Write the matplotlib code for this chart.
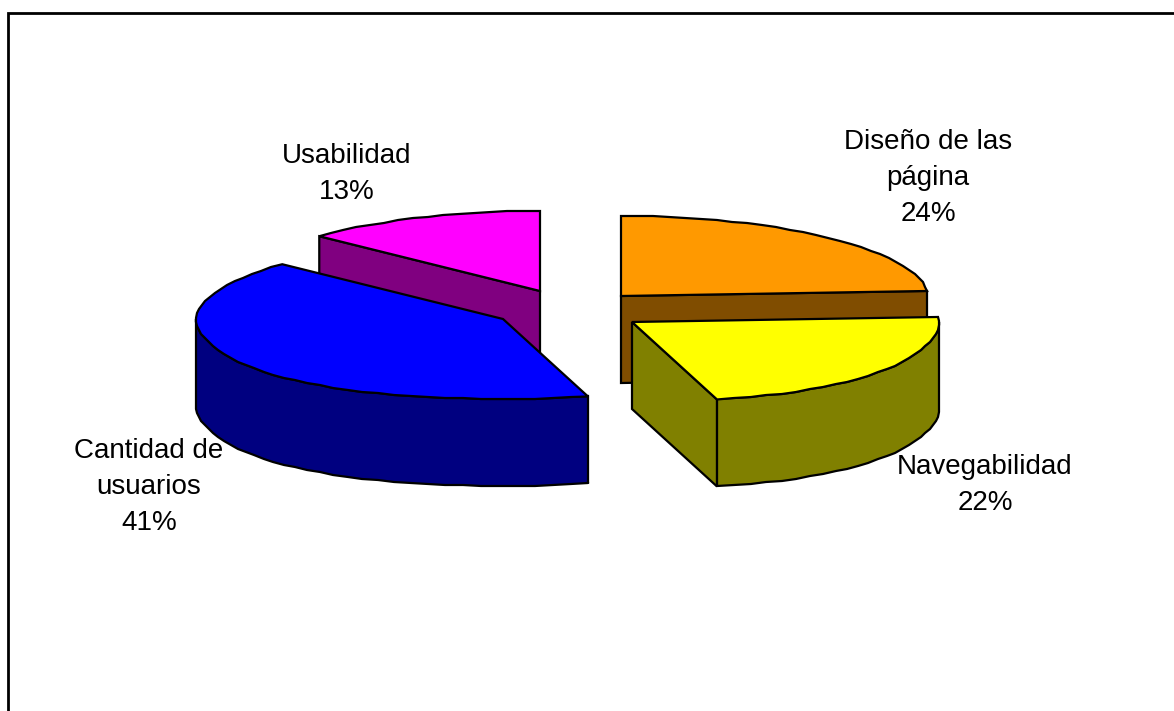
import numpy as np
import matplotlib
matplotlib.use("Agg")
import matplotlib.pyplot as plt
from matplotlib.patches import Polygon

# Data
categories = ["Diseño de las\npágina", "Navegabilidad", "Cantidad de\nusuarios", "Usabilidad"]
percentages = [24, 22, 41, 13]
top_colors = ["#FF9900", "#FFFF00", "#0000FF", "#FF00FF"]
side_colors = ["#804D00", "#808000", "#000080", "#800080"]

# Layout (pixel coordinates of the reference)
W, H = 1174, 711
RX, RY, DEPTH = 307, 80, 87
apexes = [(621, 296), (632, 322), (503, 319), (540, 291)]
label_pos = [(928, 178), (985, 485), (149, 487), (347, 174)]
draw_order = [3, 2, 0, 1]

plt.rcParams["font.family"] = ["Liberation Sans", "DejaVu Sans"]
fig = plt.figure(figsize=(W / 100, H / 100), dpi=100, facecolor="white")
ax = fig.add_axes([0, 0, 1, 1])
ax.set_xlim(0, W)
ax.set_ylim(H, 0)
ax.axis("off")


def ellipse_xy(apex, t):
    """t: clockwise angle from 12 o'clock (radians)."""
    c = np.cos(t)
    widen = 1 + 0.125 * np.maximum(0, -c) ** 3 - 0.02 * np.maximum(0, c)
    return apex[0] + RX * np.sin(t) * widen, apex[1] - RY * c


def stepped(v):
    """Whole-pixel vertices give the slightly rough outline of the original arcs."""
    out = np.round(v)
    out[0], out[-1] = v[0], v[-1]
    return out


starts = np.cumsum([0] + percentages[:-1]) * 3.6
for i in draw_order:
    d0, d1 = starts[i], starts[i] + percentages[i] * 3.6
    a0, a1 = np.radians(d0), np.radians(d1)
    apex = apexes[i]
    n = max(int((d1 - d0) / 3), 2)
    t = np.linspace(a0, a1, n + 1)
    x, y = ellipse_xy(apex, t)
    x, y = stepped(x), stepped(y)
    kw = dict(edgecolor="black", linewidth=1.6, joinstyle="miter")

    # Flat cut faces, drawn when they look toward the viewer
    for tt, visible in ((a0, 180 < d0 < 360), (a1, 0 < d1 < 180)):
        if visible:
            px, py = ellipse_xy(apex, tt)
            face = [(apex[0], apex[1]), (px, py), (px, py + DEPTH), (apex[0], apex[1] + DEPTH)]
            ax.add_patch(Polygon(face, closed=True, facecolor=side_colors[i], **kw))

    # Outer wall: the front part of the arc (from 3 o'clock to 9 o'clock)
    tw = np.r_[[max(a0, np.radians(90))],
               t[(t > np.radians(90)) & (t < np.radians(270))],
               [min(a1, np.radians(270))]]
    if tw[-1] > tw[0]:
        xf, yf = ellipse_xy(apex, tw)
        xf, yf = stepped(xf), stepped(yf)
        wall = np.r_[np.c_[xf, yf], np.c_[xf[::-1], yf[::-1] + DEPTH]]
        ax.add_patch(Polygon(wall, closed=True, facecolor=side_colors[i], **kw))

    # Top surface
    top = np.r_[[apex], np.c_[x, y]]
    ax.add_patch(Polygon(top, closed=True, facecolor=top_colors[i], **kw))

for name, pct, (lx, ly) in zip(categories, percentages, label_pos):
    ax.text(lx, ly, f"{name}\n{pct}%", ha="center", va="center", fontsize=20,
            color="black", linespacing=1.52)

# Chart frame: only the top and left edges fall inside the picture
ax.plot([8, 8, W], [H, 12.8, 12.8], color="black", lw=2, solid_joinstyle="miter")

fig.savefig("out.png", dpi=100)
